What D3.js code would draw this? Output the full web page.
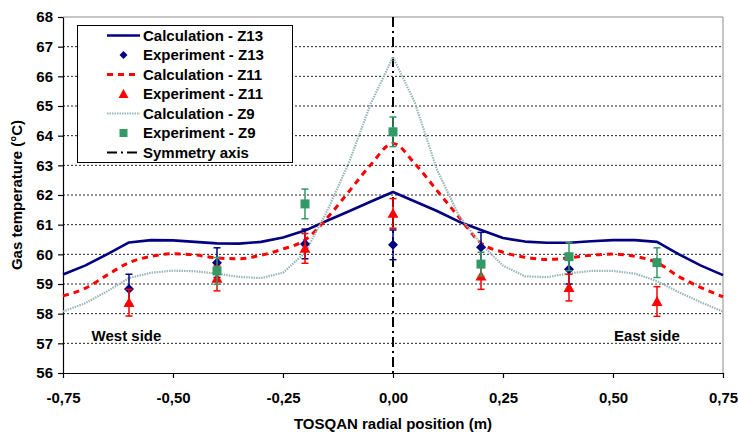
<!DOCTYPE html>
<html>
<head>
<meta charset="utf-8">
<script src="https://cdn.jsdelivr.net/npm/d3@7"></script>
<style>
  html, body { margin: 0; padding: 0; background: #fff; }
  svg text { font-family: Arial, "Liberation Sans", sans-serif; font-weight: bold; fill: #000; }
</style>
</head>
<body>
<svg id="chart" width="738" height="434"></svg>
<script>
// Radial positions (m) of the computed profiles
const positions = [-0.75, -0.70, -0.65, -0.60, -0.55, -0.50, -0.45, -0.40, -0.35, -0.30, -0.25,
                   -0.20, -0.15, -0.10, -0.05, 0.00, 0.05, 0.10, 0.15, 0.20, 0.25,
                   0.30, 0.35, 0.40, 0.45, 0.50, 0.55, 0.60, 0.65, 0.70, 0.75];

// Computed gas temperature (°C) at the three elevations
const calcZ13 = [59.32, 59.62, 60.00, 60.40, 60.48, 60.47, 60.42, 60.37, 60.36, 60.42, 60.57,
                 60.80, 61.13, 61.45, 61.78, 62.10, 61.78, 61.46, 61.10, 60.82, 60.55,
                 60.43, 60.39, 60.39, 60.44, 60.48, 60.48, 60.42, 60.00, 59.62, 59.30];
const calcZ11 = [58.60, 58.85, 59.30, 59.72, 59.93, 60.02, 59.98, 59.88, 59.85, 59.97, 60.18,
                 60.48, 61.22, 62.12, 63.03, 63.74, 63.05, 62.15, 61.25, 60.38, 60.07,
                 59.90, 59.83, 59.88, 59.97, 60.01, 59.93, 59.72, 59.25, 58.88, 58.57];
const calcZ9  = [58.07, 58.35, 58.75, 59.20, 59.38, 59.45, 59.43, 59.35, 59.24, 59.20, 59.38,
                 60.05, 61.45, 63.10, 65.10, 66.65, 65.10, 62.85, 61.30, 60.35, 59.62,
                 59.26, 59.23, 59.36, 59.44, 59.44, 59.35, 59.10, 58.72, 58.38, 58.07];

// Measurements with their uncertainty (null where no measurement exists)
const expPositions = [-0.6, -0.4, -0.2, 0.0, 0.2, 0.4, 0.6];
const expZ13 = [58.83, 59.72, 60.35, 60.32, 60.24, 59.50, null];
const errZ13 = [0.50, 0.50, 0.50, 0.50, 0.50, 0.50, null];
const expZ11 = [58.37, 59.19, 60.20, 61.38, 59.27, 58.88, 58.41];
const errZ11 = [0.45, 0.42, 0.50, 0.50, 0.45, 0.45, 0.50];
const expZ9  = [null, 59.44, 61.70, 64.13, 59.67, 59.92, 59.72];
const errZ9  = [null, 0.45, 0.50, 0.50, 0.40, 0.47, 0.50];

const yTicks = [56, 57, 58, 59, 60, 61, 62, 63, 64, 65, 66, 67, 68];
const xTicks = [-0.75, -0.50, -0.25, 0.00, 0.25, 0.50, 0.75];

const legendLabels = ["Calculation - Z13", "Experiment - Z13", "Calculation - Z11",
                      "Experiment - Z11", "Calculation - Z9", "Experiment - Z9", "Symmetry axis"];

const xTitle = "TOSQAN radial position (m)";
const yTitle = "Gas temperature (°C)";

// ---------------------------------------------------------------
const svg = d3.select("#chart");
const plotLeft = 63, plotRight = 723, plotTop = 17, plotBottom = 373;

const x = d3.scaleLinear().domain([-0.75, 0.75]).range([plotLeft, plotRight]);
const y = d3.scaleLinear().domain([56, 68]).range([plotBottom, plotTop]);

const locale = d3.formatLocale({ decimal: ",", thousands: ".", grouping: [3], currency: ["", ""], minus: "-" });
const fmtX = locale.format(".2f");

const NAVY = "#000080", RED = "#ff0000", GREEN = "#339966", PALE = "#9ab6b6";

// horizontal grid
svg.append("g").selectAll("line")
  .data(yTicks.filter(t => t > 56 && t < 68))
  .join("line")
  .attr("x1", plotLeft).attr("x2", plotRight)
  .attr("y1", d => y(d)).attr("y2", d => y(d))
  .attr("stroke", "#222").attr("stroke-width", 1).attr("stroke-dasharray", "2,2");

// plot frame (top and right)
svg.append("line").attr("x1", plotLeft).attr("x2", plotRight).attr("y1", plotTop).attr("y2", plotTop)
  .attr("stroke", "#8c8c8c").attr("stroke-width", 1);
svg.append("line").attr("x1", plotRight).attr("x2", plotRight).attr("y1", plotTop).attr("y2", plotBottom)
  .attr("stroke", "#8c8c8c").attr("stroke-width", 1);

// axes
const yAxis = svg.append("g").attr("transform", `translate(${plotLeft},0)`)
  .call(d3.axisLeft(y).tickValues(yTicks).tickSize(5).tickSizeOuter(0).tickPadding(5).tickFormat(d3.format("d")));
const xAxis = svg.append("g").attr("transform", `translate(0,${plotBottom})`)
  .call(d3.axisBottom(x).tickValues(xTicks).tickSize(5).tickSizeOuter(0).tickPadding(14).tickFormat(fmtX));
[yAxis, xAxis].forEach(g => {
  g.selectAll("path, line").attr("stroke", "#000").attr("stroke-width", 1.2);
  g.selectAll("text").style("font-size", "15px").style("font-family", "Arial, 'Liberation Sans', sans-serif").style("font-weight", "bold").attr("fill", "#000");
});

// axis titles
svg.append("text").attr("x", (plotLeft + plotRight) / 2).attr("y", 429)
  .attr("text-anchor", "middle").style("font-size", "15px").text(xTitle);
svg.append("text").attr("transform", `translate(22,${(plotTop + plotBottom) / 2}) rotate(-90)`)
  .attr("text-anchor", "middle").style("font-size", "15px").text(yTitle);

// side annotations
svg.append("text").attr("x", x(-0.685)).attr("y", 341).style("font-size", "15px").text("West side");
svg.append("text").attr("x", x(0.502)).attr("y", 341).style("font-size", "15px").text("East side");

// symmetry axis
svg.append("line").attr("x1", x(0)).attr("x2", x(0)).attr("y1", plotTop).attr("y2", plotBottom)
  .attr("stroke", "#000").attr("stroke-width", 2).attr("stroke-dasharray", "10,4,2,4");

// computed profiles
const lineLinear = d3.line().x((d, i) => x(positions[i])).y(d => y(d));
const lineSmooth = d3.line().x((d, i) => x(positions[i])).y(d => y(d)).curve(d3.curveMonotoneX);

svg.append("path").datum(calcZ13).attr("d", lineLinear)
  .attr("fill", "none").attr("stroke", NAVY).attr("stroke-width", 2.6).attr("stroke-linejoin", "round");
svg.append("path").datum(calcZ11).attr("d", lineSmooth)
  .attr("fill", "none").attr("stroke", RED).attr("stroke-width", 3).attr("stroke-dasharray", "6,5");
svg.append("path").datum(calcZ9).attr("d", lineLinear)
  .attr("fill", "none").attr("stroke", PALE).attr("stroke-width", 2.2).attr("stroke-dasharray", "1.5,1");

// marker shapes
function diamond(cx, cy, r) { return `M${cx},${cy - r}L${cx + r},${cy}L${cx},${cy + r}L${cx - r},${cy}Z`; }
function triangle(cx, cy, r) { return `M${cx},${cy - r}L${cx + r},${cy + r * 0.8}L${cx - r},${cy + r * 0.8}Z`; }
function square(cx, cy, r) { return `M${cx - r},${cy - r}h${2 * r}v${2 * r}h${-2 * r}Z`; }

function drawExperiment(values, errors, color, shape, r) {
  const pts = expPositions.map((p, i) => ({ p, v: values[i], e: errors[i] })).filter(d => d.v != null);
  const g = svg.append("g");
  const bars = g.selectAll("g.err").data(pts).join("g").attr("class", "err")
    .attr("stroke", color).attr("stroke-width", 1.5);
  bars.append("line").attr("x1", d => x(d.p)).attr("x2", d => x(d.p))
    .attr("y1", d => y(d.v - d.e)).attr("y2", d => y(d.v + d.e));
  bars.append("line").attr("x1", d => x(d.p) - 3.5).attr("x2", d => x(d.p) + 3.5)
    .attr("y1", d => y(d.v + d.e)).attr("y2", d => y(d.v + d.e));
  bars.append("line").attr("x1", d => x(d.p) - 3.5).attr("x2", d => x(d.p) + 3.5)
    .attr("y1", d => y(d.v - d.e)).attr("y2", d => y(d.v - d.e));
  g.selectAll("path.mk").data(pts).join("path").attr("class", "mk")
    .attr("d", d => shape(x(d.p), y(d.v), r)).attr("fill", color);
}
drawExperiment(expZ13, errZ13, NAVY, diamond, 5);
drawExperiment(expZ11, errZ11, RED, triangle, 5.5);
drawExperiment(expZ9, errZ9, GREEN, square, 4.5);

// legend
const lg = svg.append("g");
lg.append("rect").attr("x", 77.5).attr("y", 25.5).attr("width", 215).attr("height", 137)
  .attr("fill", "#fff").attr("stroke", "#000").attr("stroke-width", 1);
const rowY = i => 35.5 + i * 19.5;
const sx1 = 107, sx2 = 140, smid = 123.5;
lg.append("line").attr("x1", sx1).attr("x2", sx2).attr("y1", rowY(0)).attr("y2", rowY(0))
  .attr("stroke", NAVY).attr("stroke-width", 2.6);
lg.append("path").attr("d", diamond(smid, rowY(1), 4)).attr("fill", NAVY);
lg.append("line").attr("x1", sx1).attr("x2", sx2).attr("y1", rowY(2)).attr("y2", rowY(2))
  .attr("stroke", RED).attr("stroke-width", 3).attr("stroke-dasharray", "6,5");
lg.append("path").attr("d", triangle(smid, rowY(3), 5)).attr("fill", RED);
lg.append("line").attr("x1", sx1).attr("x2", sx2).attr("y1", rowY(4)).attr("y2", rowY(4))
  .attr("stroke", PALE).attr("stroke-width", 2.2).attr("stroke-dasharray", "1.5,1");
lg.append("path").attr("d", square(smid, rowY(5), 4)).attr("fill", GREEN);
lg.append("line").attr("x1", sx1).attr("x2", sx2).attr("y1", rowY(6)).attr("y2", rowY(6))
  .attr("stroke", "#000").attr("stroke-width", 2).attr("stroke-dasharray", "10,4,2,4");
lg.selectAll("text.lbl").data(legendLabels).join("text").attr("class", "lbl")
  .attr("x", 143).attr("y", (d, i) => rowY(i)).attr("dy", "0.36em")
  .style("font-size", "15px").text(d => d);
</script>
</body>
</html>
